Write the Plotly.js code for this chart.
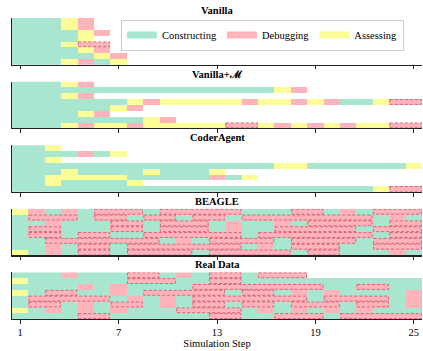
<!DOCTYPE html>
<html><head><meta charset="utf-8">
<script src="https://cdn.plot.ly/plotly-3.0.1.min.js"></script>
<style>html,body{margin:0;padding:0;background:#fff;}</style>
</head><body>
<div id="chart" style="width:423px;height:351px;"></div>
<script>
// ---- data ----
const steps = [1,2,3,4,5,6,7,8,9,10,11,12,13,14,15,16,17,18,19,20,21,22,23,24,25];
const tickSteps = [1,7,13,19,25];
const categories = ["Constructing","Debugging","Assessing"];
const categoryCodes = ["C","D","A"];
const panelTitles = ["Vanilla","Vanilla+ℳ","CoderAgent","BEAGLE","Real Data"];
// one string per row; C = Constructing, D = Debugging, A = Assessing, missing = no activity
const vanillaRows = ["CCCAD","CCCAD","CCCCAD","CCCCA","CCCADD","CCCCAD","CCCCCAD","CCCADCA"];
const vanillaMRows = [
  "CCCAD",
  "CCCCCCCCCCCCCCCCAD",
  "CCCAD",
  "CCCCCCCADAAAAADAADADCCADD",
  "CCCCCCAD",
  "CCCCAD",
  "CCCCCCCCAD",
  "CCCADAADAAAAADDADADADAADD"
];
const coderAgentRows = [
  "CCA",
  "CCCCDCA",
  "CCA",
  "CCCCCCCCCCCCCCCCAACCCCCCA",
  "CCCACCCCACCCA",
  "CCAAAAACCCCCDCA",
  "CCACCCCA",
  "CCCCCCCCCCCCCCCCCCCCCCADD"
];
const beagleRows = [
  "ADCDCDDDCDDDDDCCCDDCDCDDD",
  "CDDDCDDCDDCDDCDDDDDDDDCDC",
  "CCDCCCDDCDDDCDCCDCDDDDCDD",
  "CDDCCCDDCDDDCDCCDDDDDCDDD",
  "CDDCDDCCDDDDDDCDDDDDDDCDD",
  "CCDDDDDDDCDCDDDDCDDDDCDDD",
  "CCDCDDCDDDDDDDCDCDDDCCDDD",
  "ACDCDDCDDDDCDDDDDCDDCCCDC"
];
const realRows = [
  "CCCDCCCDDCDCDDCDDD",
  "ACCCCCCDDDCCDDCCCCCCCCCCC",
  "CCCCDCDCCCCDDDDDDDDCCDDCC",
  "ACDDCCDCDDDDDCDDCDCDCCCCD",
  "CDDDDDCDCDCDDDDDDDCDDDDCD",
  "CDDCDCDDCDCDDCDDCDDDCDDCD",
  "ACDCDCDCCCDDDDCDCDCDCDCCC",
  "CCCCDDCCCCCCDDCCDDDCDDDDD"
];
const rowIds = [0,1,2,3,4,5,6,7];

// ---- styling ----
const colors = ["#a8e6cf","#ffb3ba","#fdfd98"];
const FONT = "Liberation Serif, Times New Roman, serif";
const panels = [vanillaRows, vanillaMRows, coderAgentRows, beagleRows, realRows];
const H = 0.155, GAP = (1 - 5*H) / 4;
const colorscale = [[0,colors[0]],[1/3,colors[0]],[1/3,colors[1]],[2/3,colors[1]],[2/3,colors[2]],[1,colors[2]]];

const data = [];
const shapes = [];
const annotations = [];
const layout = {
  width: 423, height: 351,
  margin: {l: 12, r: 1, t: 18, b: 32},
  paper_bgcolor: "#fff", plot_bgcolor: "#fff",
  font: {family: FONT, size: 10, color: "#000"},
  showlegend: true,
  legend: {orientation: "h", x: 0.956, xanchor: "right", y: 0.995, yanchor: "top",
           font: {family: FONT, size: 10.5, color: "#000"}, bgcolor: "rgba(255,255,255,0.9)",
           bordercolor: "#cccccc", borderwidth: 1, itemwidth: 30},
};

panels.forEach((rows, k) => {
  const ax = k === 0 ? "" : String(k + 1);
  const top = 1 - k * (H + GAP);
  const z = rows.map(r => steps.map((s, i) => {
    const idx = categoryCodes.indexOf(r[i]);
    return idx < 0 ? null : idx;
  }));
  data.push({
    type: "heatmap", x: steps, y: rowIds, z: z,
    xaxis: "x" + ax, yaxis: "y" + ax,
    colorscale: colorscale, zmin: 0, zmax: 2, showscale: false,
    hoverinfo: "skip", showlegend: false, xgap: 0, ygap: 0
  });
  rows.forEach((r, ri) => {
    let i = 0;
    while (i < r.length) {
      if (r[i] === "D") {
        let j = i;
        while (j + 1 < r.length && r[j + 1] === "D") j++;
        if (j > i) {
          shapes.push({
            type: "rect", xref: "x" + ax, yref: "y" + ax,
            x0: steps[i] - 0.5 + 0.04, x1: steps[j] + 0.5 - 0.04,
            y0: rowIds[ri] - 0.5 + 0.08, y1: rowIds[ri] + 0.5 - 0.08,
            line: {color: "rgba(180,70,95,0.75)", width: 0.9, dash: "3px,2px"},
            fillcolor: "rgba(0,0,0,0)", layer: "above"
          });
        }
        i = j + 1;
      } else i++;
    }
  });
  layout["xaxis" + ax] = {
    domain: [0, 1], anchor: "y" + ax, range: [0.5, 25.5],
    showgrid: false, zeroline: false, showline: true, linecolor: "#222", linewidth: 1.2,
    ticks: "outside", ticklen: 3.5, tickwidth: 1, tickcolor: "#222",
    tickvals: tickSteps, ticktext: tickSteps.map(String),
    showticklabels: k === panels.length - 1,
    tickfont: {family: FONT, size: 10.5, color: "#000"},
    fixedrange: true
  };
  if (k === panels.length - 1) {
    layout["xaxis" + ax].title = {text: "Simulation Step", font: {family: FONT, size: 10.5, color: "#000"}, standoff: 2};
  }
  layout["yaxis" + ax] = {
    domain: [Math.max(0, top - H), Math.min(1, top)], anchor: "x" + ax, range: [7.5, -0.5],
    showgrid: false, zeroline: false, showline: true, linecolor: "#222", linewidth: 1.2,
    showticklabels: false, ticks: "", fixedrange: true
  };
  annotations.push({
    xref: "paper", yref: "paper", x: 0.5, y: Math.min(1, top), xanchor: "center", yanchor: "bottom",
    yshift: 0, showarrow: false, text: "<b>" + panelTitles[k] + "</b>",
    font: {family: FONT, size: 10.5, color: "#000"}
  });
});

categories.forEach((name, ci) => {
  data.push({
    type: "scatter", mode: "lines", x: [null], y: [null], name: name,
    xaxis: "x", yaxis: "y", line: {color: colors[ci], width: 7}, hoverinfo: "skip"
  });
});

layout.shapes = shapes;
layout.annotations = annotations;
Plotly.newPlot("chart", data, layout, {staticPlot: true, displayModeBar: false});
</script>
</body></html>
